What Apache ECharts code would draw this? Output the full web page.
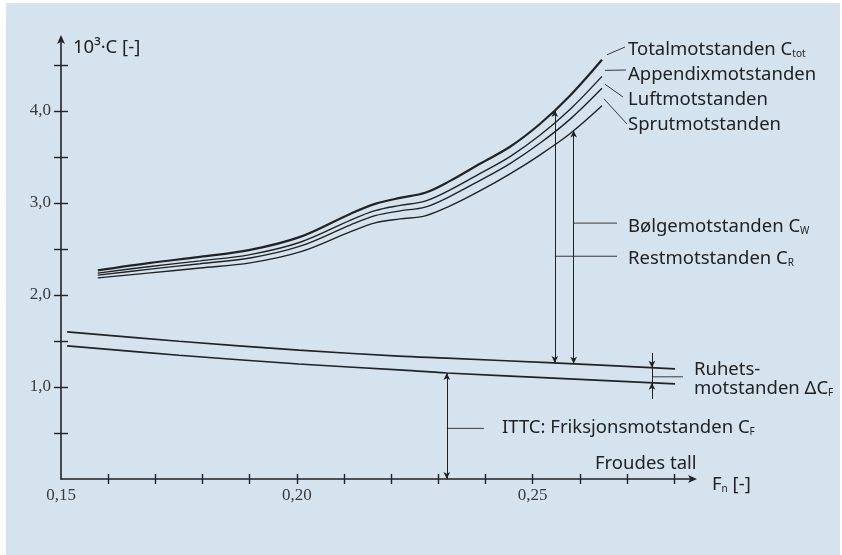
<!DOCTYPE html>
<html>
<head>
<meta charset="utf-8">
<script src="https://cdn.jsdelivr.net/npm/echarts@6/dist/echarts.min.js"></script>
<style>
  html, body { margin: 0; padding: 0; background: #ffffff; }
  #chart { width: 842px; height: 555px; }
</style>
</head>
<body>
<div id="chart"></div>
<script>
// Froude numbers where the resistance build-up curves are sampled
const fnUpper = [0.1578, 0.1689, 0.1795, 0.1901, 0.2007, 0.2113, 0.2166, 0.2219, 0.2272, 0.2325, 0.2388, 0.2452, 0.2516, 0.2579, 0.2647];
// 10^3 * C for each component sum (top to bottom)
const cTotal    = [2.266, 2.348, 2.413, 2.489, 2.630, 2.880, 2.989, 3.054, 3.109, 3.239, 3.424, 3.609, 3.859, 4.163, 4.554];
const cAppendix = [2.237, 2.309, 2.370, 2.438, 2.572, 2.810, 2.915, 2.972, 3.018, 3.141, 3.318, 3.503, 3.737, 4.014, 4.374];
const cLuft     = [2.215, 2.280, 2.339, 2.401, 2.529, 2.759, 2.861, 2.913, 2.953, 3.071, 3.242, 3.427, 3.650, 3.907, 4.245];
const cSprut    = [2.185, 2.239, 2.293, 2.348, 2.467, 2.685, 2.783, 2.826, 2.859, 2.967, 3.130, 3.315, 3.522, 3.750, 4.054];

// Friction lines: ITTC line and ITTC + roughness allowance
const fnFriction = [0.1513, 0.175, 0.2004, 0.2216, 0.2318, 0.2544, 0.2802];
const cfRough    = [1.598, 1.497, 1.400, 1.335, 1.313, 1.262, 1.196];
const cfITTC     = [1.446, 1.345, 1.250, 1.185, 1.152, 1.096, 1.033];

// Axis ticks and labels
const xTicks = [0.16, 0.17, 0.18, 0.19, 0.20, 0.21, 0.22, 0.23, 0.24, 0.25, 0.26, 0.27, 0.28];
const xLabels = [0.15, 0.20, 0.25];
const yTicks = [0.5, 1.0, 1.5, 2.0, 2.5, 3.0, 3.5, 4.0, 4.5];
const yLabels = [1.0, 2.0, 3.0, 4.0];

// Where the dimension arrows stand
const fnRest = 0.2547;   // C_R: roughness line up to total
const fnWave = 0.2587;   // C_W: roughness line up to spray curve
const fnFric = 0.2318;   // C_F: axis up to ITTC line
const fnRoughBracket = 0.2753;

const INK = '#222222';
const SERIF = '"Liberation Serif", "DejaVu Serif", serif';
const SANS = '"Noto Sans", "Open Sans", sans-serif';

const comma = v => v.toFixed(v < 1 ? 2 : 1).replace('.', ',');
const pair = (xs, ys) => xs.map((x, i) => [x, ys[i]]);
const near = (a, b) => Math.abs(a - b) < 1e-6;

// linear lookup along a sampled curve
const at = (xs, ys, x) => {
  for (let i = 0; i < xs.length - 1; i++) {
    if (x >= xs[i] && x <= xs[i + 1]) {
      const t = (x - xs[i]) / (xs[i + 1] - xs[i]);
      return ys[i] + t * (ys[i + 1] - ys[i]);
    }
  }
  return ys[ys.length - 1];
};

const X_MIN = 0.15, X_MAX = 0.284, Y_MIN = 0, Y_MAX = 4.78;

function xAxisBase(extra) {
  return Object.assign({
    type: 'value', min: X_MIN, max: X_MAX, interval: 0.01, position: 'bottom',
    splitLine: { show: false }
  }, extra);
}
function yAxisBase(extra) {
  return Object.assign({
    type: 'value', min: Y_MIN, max: Y_MAX, interval: 0.5, position: 'left',
    splitLine: { show: false }
  }, extra);
}

const curveLine = (name, data, width) => ({
  name, type: 'line', data, smooth: 0.35, symbol: 'none', silent: true,
  lineStyle: { color: INK, width }
});

const arrowStyle = { color: INK, width: 1, type: 'solid' };

const chart = echarts.init(document.getElementById('chart'), null, { renderer: 'canvas' });

const option = {
  backgroundColor: '#ffffff',
  animation: false,
  grid: { left: 61, right: 149, top: 39, bottom: 76, containLabel: false },
  xAxis: [
    xAxisBase({
      axisLine: { show: true, lineStyle: { color: INK, width: 1.6 }, symbol: ['none', 'arrow'], symbolSize: [6, 9], symbolOffset: [0, 4] },
      axisTick: { show: true, length: 5, lineStyle: { color: INK, width: 1.4 }, customValues: xTicks },
      axisLabel: {
        show: true, margin: 8, color: '#3a3a3a', fontFamily: SERIF, fontSize: 17,
        customValues: xLabels,
        formatter: v => (xLabels.some(l => near(l, v)) ? comma(v) : '')
      }
    }),
    xAxisBase({
      axisLine: { show: false },
      axisTick: { show: true, inside: true, length: 5, lineStyle: { color: INK, width: 1.4 }, customValues: xTicks },
      axisLabel: { show: false }
    })
  ],
  yAxis: [
    yAxisBase({
      axisLine: { show: true, lineStyle: { color: INK, width: 1.6 }, symbol: ['none', 'arrow'], symbolSize: [6, 9], symbolOffset: [0, 4] },
      axisTick: { show: true, length: 7, lineStyle: { color: INK, width: 1.4 }, customValues: yTicks },
      axisLabel: {
        show: true, margin: 10, color: '#3a3a3a', fontFamily: SERIF, fontSize: 17,
        customValues: yLabels,
        formatter: v => (yLabels.some(l => near(l, v)) ? comma(v) : '')
      }
    }),
    yAxisBase({
      axisLine: { show: false },
      axisTick: { show: true, inside: true, length: 7, lineStyle: { color: INK, width: 1.4 }, customValues: yTicks },
      axisLabel: { show: false }
    })
  ],
  series: [
    curveLine('Totalmotstanden', pair(fnUpper, cTotal), 2.2),
    curveLine('Appendixmotstanden', pair(fnUpper, cAppendix), 1.4),
    curveLine('Luftmotstanden', pair(fnUpper, cLuft), 1.4),
    curveLine('Sprutmotstanden', pair(fnUpper, cSprut), 1.4),
    curveLine('CF + ΔCF', pair(fnFriction, cfRough), 1.6),
    Object.assign(curveLine('CF ITTC', pair(fnFriction, cfITTC), 1.6), {
      markLine: {
        silent: true, animation: false,
        symbol: ['arrow', 'arrow'], symbolSize: [5, 7],
        label: { show: false },
        lineStyle: arrowStyle,
        data: [
          // residual resistance C_R
          [{ coord: [fnRest, at(fnFriction, cfRough, fnRest)] }, { coord: [fnRest, at(fnUpper, cTotal, fnRest)] }],
          // wave resistance C_W
          [{ coord: [fnWave, at(fnFriction, cfRough, fnWave)] }, { coord: [fnWave, at(fnUpper, cSprut, fnWave)] }],
          // ITTC friction C_F
          [{ coord: [fnFric, 0] }, { coord: [fnFric, at(fnFriction, cfITTC, fnFric)] }],
          // roughness allowance bracket
          [{ coord: [fnRoughBracket, 1.37], symbol: 'none' }, { coord: [fnRoughBracket, at(fnFriction, cfRough, fnRoughBracket)], symbol: 'arrow' }],
          [{ coord: [fnRoughBracket, 0.87], symbol: 'none' }, { coord: [fnRoughBracket, at(fnFriction, cfITTC, fnRoughBracket)], symbol: 'arrow' }],
          [{ coord: [fnRoughBracket, at(fnFriction, cfRough, fnRoughBracket)], symbol: 'none' }, { coord: [fnRoughBracket, at(fnFriction, cfITTC, fnRoughBracket)], symbol: 'none' }]
        ]
      }
    })
  ]
};

chart.setOption(option);

// Annotation texts and leader lines
const toPx = (x, y) => chart.convertToPixel({ gridIndex: 0 }, [x, y]);
const lead = (x1, y1, x2, y2) => ({
  type: 'line', silent: true,
  shape: { x1, y1, x2, y2 },
  style: { stroke: '#3a3a3a', lineWidth: 1 }
});
const richStyles = {
  a: { fontFamily: SANS, fontSize: 18.5, lineHeight: 24, verticalAlign: 'bottom', fill: INK },
  s: { fontFamily: SANS, fontSize: 10, lineHeight: 12, verticalAlign: 'bottom', fill: INK }
};
const label = (x, y, text) => ({
  type: 'text', silent: true, x, y,
  style: { text, rich: richStyles, fill: INK, verticalAlign: 'middle', align: 'left' }
});

const last = fnUpper.length - 1;
const endTotal = toPx(fnUpper[last], cTotal[last]);
const endApp = toPx(fnUpper[last], cAppendix[last]);
const endLuft = toPx(fnUpper[last], cLuft[last]);
const endSprut = toPx(fnUpper[last], cSprut[last]);
const restPx = toPx(fnRest, 2.42);
const wavePx = toPx(fnWave, 2.78);
const fricPx = toPx(fnFric, 0.55);
const brPx = toPx(fnRoughBracket, 1.11);
const originPx = toPx(X_MIN, Y_MAX);

chart.setOption({
  graphic: [
    // plot panel
    { type: 'rect', z: -10, silent: true, shape: { x: 6, y: 3, width: 834, height: 552 }, style: { fill: '#d5e3ee' } },

    lead(endTotal[0] + 5, endTotal[1] - 5, 625, 47),
    lead(endApp[0] + 3, endApp[1] - 6, 626, 70),
    lead(endLuft[0] + 3, endLuft[1] - 4, 623, 97),
    lead(endSprut[0] + 2, endSprut[1] - 7, 627, 124),
    label(628, 47, '{a|Totalmotstanden C}{s|tot}'),
    label(628, 72, '{a|Appendixmotstanden}'),
    label(628, 97, '{a|Luftmotstanden}'),
    label(628, 122, '{a|Sprutmotstanden}'),

    lead(wavePx[0], wavePx[1], 617, wavePx[1]),
    lead(restPx[0], restPx[1], 617, restPx[1]),
    label(628, wavePx[1] + 1, '{a|Bølgemotstanden C}{s|W}'),
    label(628, restPx[1], '{a|Restmotstanden C}{s|R}'),

    lead(fricPx[0], fricPx[1], fricPx[0] + 37, fricPx[1]),
    label(502, fricPx[1] - 3, '{a|ITTC: Friksjonsmotstanden C}{s|F}'),

    lead(brPx[0], brPx[1], brPx[0] + 31, brPx[1]),
    label(694, 367, '{a|Ruhets-}'),
    label(694, 386, '{a|motstanden ΔC}{s|F}'),

    label(595, 461, '{a|Froudes tall}'),
    label(712, 482, '{a|F}{s|n}{a| [-]}'),
    label(originPx[0] + 12, originPx[1] + 6, '{a|10³·C [-]}')
  ]
});
</script>
</body>
</html>
